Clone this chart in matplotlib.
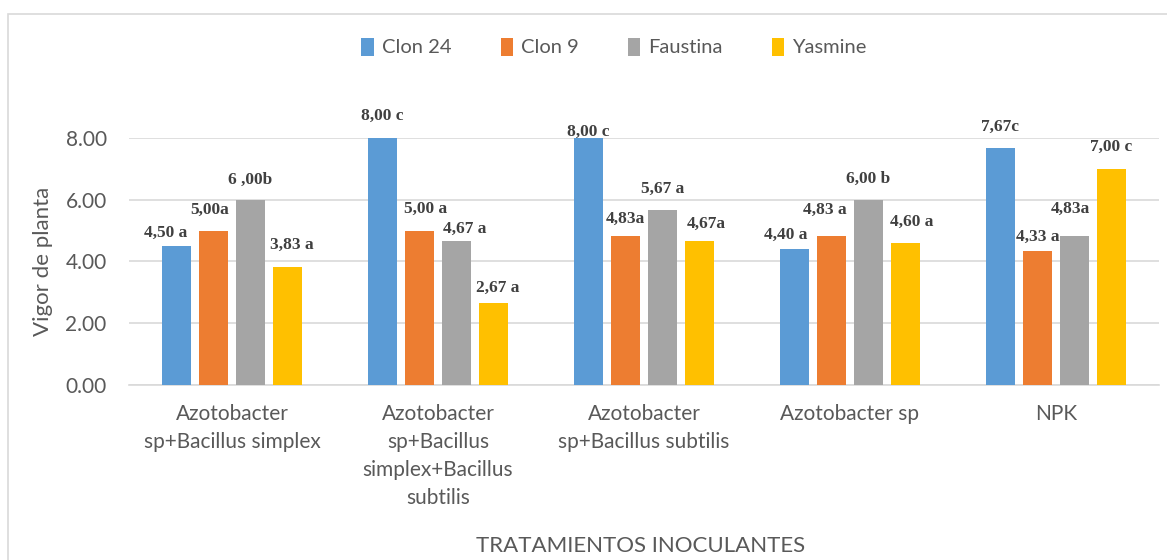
import matplotlib
matplotlib.use("Agg")
import matplotlib.pyplot as plt
from matplotlib.patches import Rectangle
import numpy as np

categories = ["Azotobacter\nsp+Bacillus simplex",
              "Azotobacter\nsp+Bacillus\nsimplex+Bacillus\nsubtilis",
              "Azotobacter\nsp+Bacillus subtilis",
              "Azotobacter sp",
              "NPK"]
series_names = ["Clon 24", "Clon 9", "Faustina", "Yasmine"]
clon24 = [4.50, 8.00, 8.00, 4.40, 7.67]
clon9 = [5.00, 5.00, 4.83, 4.83, 4.33]
faustina = [6.00, 4.67, 5.67, 6.00, 4.83]
yasmine = [3.83, 2.67, 4.67, 4.60, 7.00]

lab_clon24 = ["4,50 a", "8,00 c", "8,00 c", "4,40 a", "7,67c"]
lab_clon9 = ["5,00a", "5,00 a", "4,83a", "4,83 a", "4,33 a"]
lab_faustina = ["6 ,00b", "4,67 a", "5,67 a", "6,00 b", "4,83a"]
lab_yasmine = ["3,83 a", "2,67 a", "4,67a", "4,60 a", "7,00 c"]

# layout: label positions (data y) and small x shifts (data units)
lab_y = [[4.92, 8.71, 8.19, 4.85, 8.35],
         [5.66, 5.70, 5.37, 5.66, 4.79],
         [6.63, 5.05, 6.34, 6.67, 5.70],
         [4.53, 3.14, 5.21, 5.28, 7.70]]
lab_dx = [[-0.05, 0.0, 0.0, -0.04, 0.0],
          [-0.02, 0.03, 0.0, -0.03, 0.0],
          [0.0, 0.04, 0.0, 0.0, -0.02],
          [0.02, 0.02, 0.03, 0.03, 0.0]]

colors = ["#5B9BD5", "#ED7D31", "#A5A5A5", "#FFC000"]
values = [clon24, clon9, faustina, yasmine]
labels = [lab_clon24, lab_clon9, lab_faustina, lab_yasmine]

fig = plt.figure(figsize=(11.67, 5.6), dpi=100)
fig.patches.append(Rectangle((0.0068, -0.02), 1.05, 0.995, transform=fig.transFigure,
                             fill=False, edgecolor="#D9D9D9", linewidth=1.2, zorder=0))
ax = fig.add_axes([0.1105, 0.3125, 0.8826, 0.4411])

x = np.arange(len(categories))
step = 0.18
width = 0.143
offsets = [-1.5 * step, -0.5 * step, 0.5 * step, 1.5 * step]
for i, (vals, name, col) in enumerate(zip(values, series_names, colors)):
    ax.bar(x + offsets[i], vals, width, color=col, label=name, zorder=3)
    for j, t in enumerate(labels[i]):
        ax.text(x[j] + offsets[i] + lab_dx[i][j], lab_y[i][j], t, ha="center", va="center",
                fontsize=12.5, fontweight="bold", family="Liberation Serif", color="#404040",
                clip_on=False)

ax.set_xlim(-0.5, len(categories) - 0.5)
ax.set_ylim(0, 8.0)
ax.set_yticks([0, 2, 4, 6, 8])
ax.set_yticklabels(["0.00", "2.00", "4.00", "6.00", "8.00"])
ax.yaxis.grid(True, color="#D9D9D9", linewidth=1.2, zorder=0)
ax.set_axisbelow(True)
for s in ["top", "right", "left"]:
    ax.spines[s].set_visible(False)
ax.spines["bottom"].set_color("#D9D9D9")
ax.spines["bottom"].set_linewidth(1.2)
ax.tick_params(axis="y", length=0, labelsize=15, labelcolor="#595959", pad=16)
ax.tick_params(axis="x", length=0, labelsize=15, labelcolor="#595959", pad=14)
ax.set_xticks(x)
ax.set_xticklabels(categories, linespacing=1.5)
for t in ax.get_xticklabels() + ax.get_yticklabels():
    t.set_family("Lato")

ax.set_ylabel("Vigor de planta", fontsize=16, color="#595959", family="Lato", labelpad=9)
fig.text(0.549, 0.025, "TRATAMIENTOS INOCULANTES", ha="center", va="center",
         fontsize=16, color="#595959", family="Lato")

leg = fig.legend(loc="center", bbox_to_anchor=(0.526, 0.916), ncol=4, frameon=False,
                 prop={"family": "Lato", "size": 14.5}, handlelength=0.6, handleheight=1.0,
                 handletextpad=0.4, columnspacing=2.45)
for t in leg.get_texts():
    t.set_color("#595959")

fig.savefig("out.png", dpi=100)
